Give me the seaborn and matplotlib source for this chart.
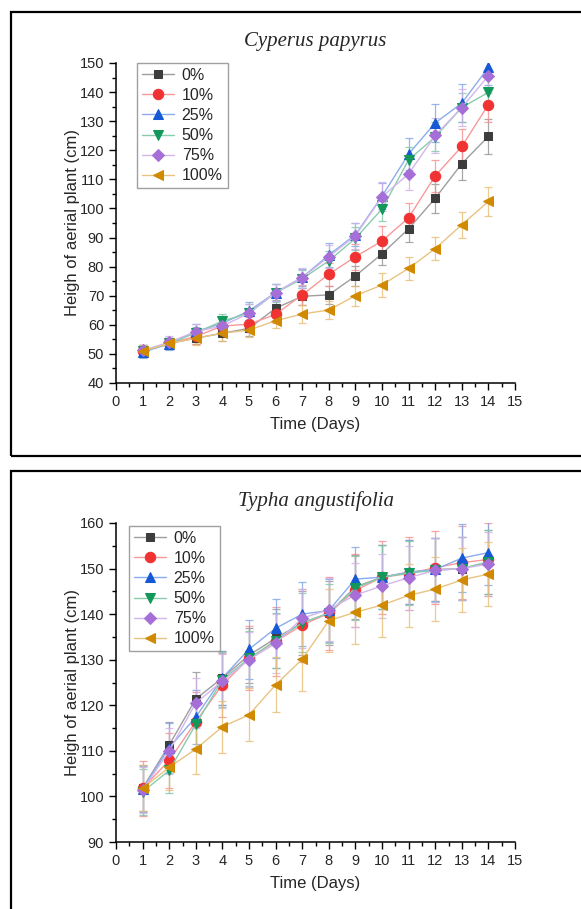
import numpy as np
import pandas as pd
import matplotlib
matplotlib.use("Agg")
import matplotlib.pyplot as plt
import matplotlib.colors as mcolors
from matplotlib.patches import Rectangle
import seaborn as sns

# data
days = list(range(1, 15))
labels = ["0%", "10%", "25%", "50%", "75%", "100%"]

# Cyperus papyrus
cp_0 = [51.0, 53.6, 55.4, 57.1, 58.8, 65.7, 69.8, 70.3, 76.8, 84.4, 93.0, 103.5, 115.4, 124.8]
cp_10 = [51.0, 53.6, 56.0, 59.6, 60.2, 63.6, 70.3, 77.4, 83.4, 88.8, 96.8, 111.2, 121.3, 135.7]
cp_25 = [50.6, 53.4, 57.7, 60.5, 64.8, 71.1, 76.3, 84.0, 91.0, 104.2, 118.7, 129.4, 136.2, 148.5]
cp_50 = [51.0, 53.6, 57.2, 61.3, 64.0, 71.0, 75.8, 82.0, 89.7, 99.8, 116.7, 124.6, 134.7, 139.9]
cp_75 = [51.2, 54.0, 57.7, 59.6, 64.0, 71.1, 76.2, 83.4, 90.6, 104.0, 111.9, 125.1, 134.7, 145.6]
cp_100 = [51.0, 53.6, 55.4, 57.1, 58.2, 61.4, 63.7, 65.1, 70.0, 73.7, 79.4, 86.2, 94.4, 102.4]

cp_0_err = [2, 2, 2, 2.5, 2.5, 3, 3, 3, 3.5, 4, 4.5, 5, 5.5, 6]
cp_10_err = [2, 2, 2.5, 2.5, 2.5, 3, 3.5, 4, 4.5, 5, 5, 5.5, 6, 6]
cp_25_err = [2, 2, 2.5, 2.5, 3, 3, 3, 4, 4, 4.5, 5.5, 6.5, 6.5, 6]
cp_50_err = [2, 2, 2, 2.5, 3, 3, 3, 3.5, 4, 4, 4.5, 5, 5, 5]
cp_75_err = [2, 2, 2.5, 2.5, 3, 3, 3.5, 4, 4.5, 5, 5.5, 6, 6.5, 6]
cp_100_err = [2, 2, 2.5, 2.5, 2.5, 2.5, 3, 3, 3.5, 4, 4, 4, 4.5, 5]

# Typha angustifolia
ta_0 = [101.8, 111.3, 121.4, 126.0, 131.0, 134.7, 138.1, 140.2, 146.0, 148.1, 149.2, 149.8, 150.0, 151.4]
ta_10 = [101.8, 107.9, 116.4, 124.5, 130.3, 134.0, 137.6, 140.2, 145.2, 148.1, 148.9, 150.2, 151.3, 152.0]
ta_25 = [101.6, 110.7, 117.4, 126.0, 132.3, 136.9, 140.0, 140.8, 147.7, 148.1, 149.2, 149.8, 152.3, 153.5]
ta_50 = [101.0, 105.7, 115.8, 125.6, 130.3, 134.2, 138.1, 140.2, 145.7, 148.1, 149.0, 149.6, 150.0, 151.5]
ta_75 = [101.4, 110.0, 120.5, 125.3, 130.0, 133.6, 139.1, 141.0, 144.2, 146.2, 148.0, 149.6, 150.0, 151.0]
ta_100 = [101.8, 106.4, 110.4, 115.3, 117.9, 124.5, 130.1, 138.6, 140.4, 142.0, 144.1, 145.5, 147.5, 148.8]

ta_0_err = [5, 5, 6, 6, 6, 6.5, 7, 7, 7, 7, 7, 7, 7, 7]
ta_10_err = [6, 6, 6.5, 7, 7, 7.5, 8, 8, 8, 8, 8, 8, 8, 8]
ta_25_err = [5, 5.5, 6, 6, 6.5, 6.5, 7, 7, 7, 7, 7, 7, 7.5, 7]
ta_50_err = [5, 5, 5.5, 6, 6, 6, 6.5, 6.5, 7, 7, 7, 7, 7, 7]
ta_75_err = [5, 5, 5.5, 6, 6, 6.5, 6.5, 7, 7, 7, 7, 7, 7, 7]
ta_100_err = [5, 5, 5.5, 5.7, 5.8, 6, 7, 7, 7, 7, 7, 7, 7, 7]

colors = ["#3d3d3d", "#f03232", "#1659d6", "#12985a", "#a66fd8", "#d18a00"]
markers = ["s", "o", "^", "v", "D", "<"]
msizes = [6, 7.5, 7.5, 7.5, 6.5, 7.5]

sns.set_style("ticks")
plt.rcParams["font.family"] = ["Liberation Sans", "DejaVu Sans"]


def lighten(c, amt=0.5):
    r, g, b = mcolors.to_rgb(c)
    return (r + (1 - r) * amt, g + (1 - g) * amt, b + (1 - b) * amt)


def make_df(series, errs):
    rows = []
    for lab, vals, err in zip(labels, series, errs):
        for d, v, e in zip(days, vals, err):
            rows.append({"day": d, "height": v, "err": e, "conc": lab})
    return pd.DataFrame(rows)


def draw_panel(ax, df, title, ylim, yticks, leg_anchor):
    for lab, col in zip(labels, colors):
        sub = df[df["conc"] == lab]
        ax.errorbar(sub["day"], sub["height"], yerr=sub["err"], fmt="none",
                    ecolor=lighten(col, 0.45), elinewidth=0.9, capsize=3,
                    capthick=0.9, alpha=0.8, zorder=1)
    for lab, col, m, ms in zip(labels, colors, markers, msizes):
        sub = df[df["conc"] == lab]
        sns.lineplot(data=sub, x="day", y="height", ax=ax, color=lighten(col, 0.5),
                     linewidth=1.0, marker=m, markersize=ms, markerfacecolor=col,
                     markeredgecolor=col, label=lab, zorder=3)

    ax.set_xlim(0, 15)
    ax.set_ylim(*ylim)
    ax.set_xticks(range(0, 16))
    ax.set_xticks(np.arange(0.5, 15, 1), minor=True)
    ax.set_yticks(yticks)
    ax.set_yticks(np.arange(ylim[0] + 5, ylim[1], 10), minor=True)
    ax.tick_params(axis="both", which="major", length=5, width=1, labelsize=10.5,
                   direction="out", color="black")
    ax.tick_params(axis="both", which="minor", length=3, width=1, direction="out", color="black")
    for s in ["top", "right"]:
        ax.spines[s].set_visible(False)
    for s in ["left", "bottom"]:
        ax.spines[s].set_linewidth(1.1)
        ax.spines[s].set_color("black")
    ax.set_xlabel("Time (Days)", fontsize=12, labelpad=6)
    ax.set_ylabel("Heigh of aerial plant (cm)", fontsize=12, labelpad=0)
    ax.set_title(title, fontsize=15, family=["Liberation Serif", "DejaVu Serif"],
                 style="italic", pad=12)
    leg = ax.legend(loc="upper left", bbox_to_anchor=leg_anchor, borderaxespad=0,
                    fontsize=11.5, frameon=True, fancybox=False, edgecolor="#888888",
                    labelspacing=0.32, handlelength=2.0, handletextpad=0.5,
                    borderpad=0.3)
    leg.get_frame().set_linewidth(1.0)


fig = plt.figure(figsize=(5.81, 9.09), dpi=100)
W, H = 581, 909
ax1 = fig.add_axes([116 / W, 1 - 383 / H, 399 / W, 320 / H])
ax2 = fig.add_axes([116 / W, 1 - 842 / H, 399 / W, 319 / H])

df_cp = make_df([cp_0, cp_10, cp_25, cp_50, cp_75, cp_100],
                [cp_0_err, cp_10_err, cp_25_err, cp_50_err, cp_75_err, cp_100_err])
df_ta = make_df([ta_0, ta_10, ta_25, ta_50, ta_75, ta_100],
                [ta_0_err, ta_10_err, ta_25_err, ta_50_err, ta_75_err, ta_100_err])

draw_panel(ax1, df_cp, "Cyperus papyrus", (40, 150), range(40, 151, 10), (21 / 399, 1.0))
draw_panel(ax2, df_ta, "Typha angustifolia", (90, 160), range(90, 161, 10), (13 / 399, 1 - 3 / 319))

# panel frames
fig.add_artist(Rectangle((11 / W, 1 - 456 / H), 1.0, 444 / H, transform=fig.transFigure,
                         fill=False, lw=1.6, edgecolor="black"))
fig.add_artist(Rectangle((11 / W, -0.05), 1.0, 0.05 + 1 - 471 / H, transform=fig.transFigure,
                         fill=False, lw=1.6, edgecolor="black"))

fig.savefig("out.png", dpi=100)
